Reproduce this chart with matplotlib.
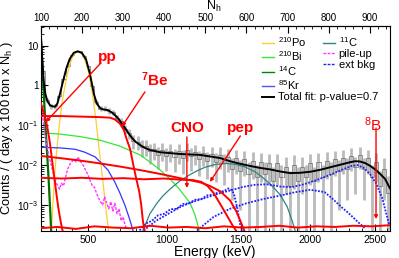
import numpy as np
import matplotlib
matplotlib.use('Agg')
import matplotlib.pyplot as plt
from matplotlib.ticker import FixedLocator, NullFormatter, FixedFormatter, LogLocator
from matplotlib.lines import Line2D

plt.rcParams['font.family'] = ['Liberation Sans', 'DejaVu Sans']
plt.rcParams['mathtext.fontset'] = 'custom'
plt.rcParams['mathtext.rm'] = 'Liberation Sans'
plt.rcParams['mathtext.it'] = 'Liberation Sans:italic'
plt.rcParams['mathtext.bf'] = 'Liberation Sans:bold'

# ---------------- data (x in N_h) ----------------
energy_cal = [500, 1000, 1500, 2000, 2500]
nh_cal = [215, 408, 586, 754, 912]

data_nh = list(range(105, 950, 10))
data_val = [2.3, 0.44, 0.30, 0.30, 0.53, 1.45, 3.1, 5.7, 6.9, 7.1,
            5.5, 3.0, 0.95, 0.38, 0.26, 0.26, 0.23, 0.21, 0.155, 0.125,
            0.08, 0.063, 0.041, 0.038, 0.029, 0.030, 0.022, 0.025, 0.018, 0.024,
            0.017, 0.023, 0.016, 0.022, 0.015, 0.024, 0.017, 0.021, 0.014, 0.020,
            0.013, 0.019, 0.012, 0.018, 0.011, 0.016, 0.008, 0.015, 0.007, 0.014,
            0.006, 0.013, 0.005, 0.012, 0.006, 0.011, 0.004, 0.011, 0.005, 0.009,
            0.003, 0.010, 0.004, 0.009, 0.005, 0.011, 0.004, 0.012, 0.005, 0.013,
            0.006, 0.014, 0.007, 0.015, 0.008, 0.017, 0.009, 0.018, 0.008, 0.015,
            0.005, 0.012, 0.003, 0.008, 0.002]

fit_nh = [99, 103, 107, 111, 116, 122, 128, 134, 140, 146, 154, 162, 170, 180, 190,
          200, 210, 219, 229, 236, 244, 251, 263, 275, 285, 292, 300, 310, 317, 324,
          331, 341, 353, 365, 390, 414, 438, 463, 487, 511, 536, 560, 584, 609, 633,
          657, 682, 706, 730, 755, 779, 803, 828, 852, 864, 876, 889, 901, 913, 925,
          937, 949]
fit_val = [25, 5, 1.2, 0.6, 0.4, 0.32, 0.3, 0.29, 0.35, 0.6, 1.3, 2.7, 4.6, 6.6, 7.2,
           6.5, 4.4, 2.0, 0.6, 0.35, 0.27, 0.25, 0.24, 0.2, 0.16, 0.13, 0.1, 0.07, 0.055, 0.045,
           0.038, 0.032, 0.027, 0.024, 0.021, 0.02, 0.019, 0.0185, 0.018, 0.0165, 0.015, 0.0125, 0.0108, 0.0095, 0.0085,
           0.0078, 0.0069, 0.0063, 0.0064, 0.0068, 0.0076, 0.0088, 0.0102, 0.0118, 0.0125, 0.0123, 0.0112, 0.0095, 0.0078, 0.006,
           0.0045, 0.0026]

pp_nh = [99, 103, 107, 110, 113, 116, 119, 122, 125, 128, 131, 134, 138, 142, 146, 150, 153]
pp_val = [0.38, 0.28, 0.2, 0.16, 0.12, 0.085, 0.055, 0.035, 0.02, 0.011, 0.0065, 0.0038,
          0.0018, 9e-4, 5e-4, 3e-4, 2.2e-4]

be7_nh = [99, 146, 195, 244, 268, 280, 292, 302, 307, 317, 324, 331, 339, 344, 348, 353]
be7_val = [0.17, 0.17, 0.165, 0.16, 0.155, 0.14, 0.11, 0.075, 0.05, 0.025, 0.011, 5e-3,
           2.2e-3, 1e-3, 4e-4, 2e-4]

pep_nh = [99, 150, 200, 250, 300, 350, 400, 440, 470, 490, 505, 520, 535, 550, 565, 578]
pep_val = [0.0048, 0.0046, 0.0048, 0.0045, 0.0047, 0.0044, 0.0046, 0.0043, 0.0042, 0.0038,
           0.003, 0.002, 0.0011, 6e-4, 3.2e-4, 2e-4]

cno_nh = [99, 146, 195, 244, 292, 341, 390, 438, 487, 511, 536, 560, 575, 585, 595]
cno_val = [0.017, 0.015, 0.013, 0.011, 0.0092, 0.0075, 0.006, 0.0047, 0.0037, 0.003,
           0.0022, 0.0013, 7e-4, 4e-4, 2.2e-4]

b8_nh = [99, 140, 185, 230, 275, 320, 365, 410, 455, 500, 545, 590, 635, 680, 725, 770,
         815, 860, 905, 949]
b8_val = [2.6e-4, 2.8e-4, 2.5e-4, 2.9e-4, 2.7e-4, 2.6e-4, 3.0e-4, 2.7e-4, 2.8e-4, 2.6e-4,
          2.9e-4, 2.7e-4, 2.8e-4, 3.0e-4, 2.7e-4, 2.9e-4, 2.8e-4, 3.0e-4, 2.9e-4, 3.1e-4]

po_nh = [122, 126, 130, 134, 140, 146, 152, 158, 164, 170, 176, 182, 190, 198, 204, 210,
         216, 222, 228, 234, 240, 246, 252, 258, 264, 268]
po_val = [1.5e-4, 2.6e-4, 1.5e-3, 7e-3, 0.035, 0.13, 0.4, 0.9, 1.9, 3.3, 4.9, 6.3, 7.0,
          6.4, 5.1, 3.5, 2.1, 1.0, 0.4, 0.13, 0.035, 0.01, 3e-3, 8e-4, 2.5e-4, 1.5e-4]

bi_nh = [100, 146, 195, 244, 292, 341, 365, 390, 414, 438, 463, 475, 485]
bi_val = [0.065, 0.06, 0.052, 0.042, 0.03, 0.018, 0.012, 0.0075, 0.0045, 0.0024, 0.0011,
          5.5e-4, 2.3e-4]

c14_nh = [99, 101, 103, 105, 107, 109, 111, 113, 115, 117, 119, 121, 123, 125]
c14_val = [25, 10, 4, 1.6, 0.6, 0.25, 0.1, 0.045, 0.02, 0.009, 0.004, 0.0015, 6e-4, 2.2e-4]

kr_nh = [100, 146, 183, 207, 232, 244, 263, 280, 292, 304, 314, 324]
kr_val = [0.028, 0.027, 0.025, 0.021, 0.016, 0.012, 0.0075, 0.0037, 0.002, 0.001, 5e-4, 2.3e-4]

c11_nh = [348, 358, 365, 382, 397, 414, 438, 463, 480, 499, 523, 548, 572, 596, 621, 638,
          657, 682, 699, 711, 718]
c11_val = [2.3e-4, 4e-4, 6e-4, 1.1e-3, 1.7e-3, 2.5e-3, 4e-3, 5.8e-3, 7.2e-3, 8.8e-3,
           1.03e-2, 1.1e-2, 1.05e-2, 9e-3, 6.8e-3, 5e-3, 3.4e-3, 1.8e-3, 9e-4, 4e-4, 2.3e-4]

pile_nh = [99, 105, 110, 118, 125, 135, 145, 150, 155, 160, 165, 172, 180, 185, 190, 195,
           200, 205, 210, 215, 220, 225, 230, 235, 240, 245, 250, 255, 260, 265, 270, 275,
           280, 285, 290, 295, 300, 305, 310]
pile_val = [0.5, 0.15, 0.06, 0.02, 0.01, 0.004, 0.0025, 0.0035, 0.003, 0.005, 0.008, 0.011,
            0.014, 0.012, 0.016, 0.013, 0.011, 0.009, 0.007, 0.0055, 0.004, 0.003, 0.0028,
            0.002, 0.0015, 0.0012, 0.001, 0.0016, 0.0011, 0.0008, 0.0012, 0.0007, 0.0011,
            0.0006, 0.0008, 0.0004, 0.0005, 0.0003, 0.00025]

extk_nh = [340, 355, 370, 385, 400, 415, 430, 445, 460, 475, 490, 505, 520, 535, 545, 555,
           560, 565, 570, 578, 585, 590]
extk_val = [2.3e-4, 3.4e-4, 4e-4, 5.5e-4, 6e-4, 7.8e-4, 8e-4, 1.05e-3, 1.1e-3, 1.35e-3,
            1.4e-3, 1.75e-3, 1.8e-3, 2.2e-3, 2.2e-3, 2.6e-3, 2.5e-3, 2.3e-3, 1.8e-3, 8e-4,
            3e-4, 2e-4]

extt_nh = [350, 380, 410, 440, 470, 500, 530, 560, 590, 620, 650, 680, 710, 740, 770, 800,
           830, 855, 870, 885, 900, 915, 930, 940, 948]
extt_val = [2.3e-4, 4e-4, 6e-4, 9e-4, 1.2e-3, 1.5e-3, 1.9e-3, 2.3e-3, 2.8e-3, 3.2e-3,
            3.3e-3, 2.9e-3, 2.8e-3, 3.3e-3, 4.2e-3, 5.5e-3, 7.5e-3, 9.5e-3, 1.0e-2, 8.5e-3,
            6e-3, 3.5e-3, 1.5e-3, 6e-4, 3e-4]

extb_nh = [480, 520, 560, 600, 640, 680, 720, 755, 790, 810, 830, 850, 870, 890]
extb_val = [2.3e-4, 5e-4, 8e-4, 1.1e-3, 1.4e-3, 1.7e-3, 2.1e-3, 2.4e-3, 2.1e-3, 1.4e-3,
            9e-4, 6e-4, 3.8e-4, 2.5e-4]

energy_major = [500, 1000, 1500, 2000, 2500]
nh_major = [100, 200, 300, 400, 500, 600, 700, 800, 900]

# ---------------- figure ----------------
W, H = 399, 258
fig = plt.figure(figsize=(W / 100, H / 100), dpi=100)
ax = fig.add_axes([40.5 / W, 1 - 230.5 / H, (390 - 40.5) / W, (230.5 - 26) / H])
ax.set_yscale('log')
ax.set_xlim(99, 949)
ax.set_ylim(2.28e-4, 31)

# data with error bars
dv = np.array(data_val)
err = np.sqrt(dv / 180.0)
lo = np.clip(dv - err, 1e-5, None)
hi = dv + err
ax.vlines(data_nh, lo, hi, color='#8c8c8c', lw=2.0, alpha=0.6, zorder=1)
edges = np.concatenate([[100], np.array(data_nh) + 5])
ax.stairs(dv, edges, color='#6a6a6a', lw=0.5, zorder=1)

red = '#ff0000'
ax.plot(po_nh, po_val, color='#ffcc33', lw=0.9, zorder=2)
ax.plot(bi_nh, bi_val, color='#33e833', lw=0.9, zorder=2)
ax.plot(c14_nh, c14_val, color='#006f00', lw=1.6, zorder=2)
ax.plot(kr_nh, kr_val, color='#3333ff', lw=0.9, zorder=2)
ax.plot(c11_nh, c11_val, color='#2a8585', lw=0.9, zorder=2)
ax.plot(pile_nh, pile_val, color='#ff33ff', lw=1.0, ls=(0, (2, 1)), zorder=2)
for xs, ys in [(extk_nh, extk_val), (extt_nh, extt_val), (extb_nh, extb_val)]:
    ax.plot(xs, ys, color='#2020ff', lw=1.3, ls=(0, (1, 0.8)), zorder=2)
for xs, ys in [(pp_nh, pp_val), (be7_nh, be7_val), (pep_nh, pep_val),
               (cno_nh, cno_val), (b8_nh, b8_val)]:
    ax.plot(xs, ys, color=red, lw=1.4, zorder=3)
ax.plot(fit_nh, fit_val, color='black', lw=1.4, zorder=4)

# annotations
akw = dict(arrowstyle='-|>', color=red, lw=1.0, mutation_scale=5, shrinkA=0, shrinkB=0)
ax.annotate('', xy=(112, 0.121), xytext=(246, 3.67), arrowprops=akw, zorder=5)
ax.text(261, 5.2, 'pp', color=red, fontsize=11, fontweight='bold', ha='center', va='center')
ax.annotate('', xy=(297, 0.093), xytext=(353, 0.687), arrowprops=akw, zorder=5)
ax.text(378, 1.37, r'$^{\mathbf{7}}$Be', color=red, fontsize=11, fontweight='bold', ha='center', va='center')
ax.annotate('', xy=(455, 0.00266), xytext=(455, 0.0508), arrowprops=akw, zorder=5)
ax.text(455, 0.084, 'CNO', color=red, fontsize=11, fontweight='bold', ha='center', va='center')
ax.annotate('', xy=(511, 0.00377), xytext=(585, 0.0538), arrowprops=akw, zorder=5)
ax.text(585, 0.084, 'pep', color=red, fontsize=11, fontweight='bold', ha='center', va='center')
ax.annotate('', xy=(915, 4.4e-4), xytext=(915, 0.085), arrowprops=akw, zorder=5)
ax.text(908, 0.102, r'$^{8}$B', color=red, fontsize=11, ha='center', va='center')

# axes ticks
coef = np.polyfit(energy_cal, nh_cal, 2)
def e2nh(e):
    return np.polyval(coef, e)
ax.xaxis.set_major_locator(FixedLocator(e2nh(np.array(energy_major))))
ax.xaxis.set_major_formatter(FixedFormatter([str(e) for e in energy_major]))
minor_e = [e for e in range(200, 2700, 100) if e not in energy_major]
ax.xaxis.set_minor_locator(FixedLocator(e2nh(np.array(minor_e))))
ax.xaxis.set_minor_formatter(NullFormatter())

ax.yaxis.set_major_locator(FixedLocator([1e-3, 1e-2, 1e-1, 1, 10]))
ax.yaxis.set_major_formatter(FixedFormatter([r'$10^{-3}$', r'$10^{-2}$', r'$10^{-1}$', '1', '10']))
ax.yaxis.set_minor_locator(LogLocator(base=10, subs=np.arange(2, 10), numticks=20))
ax.yaxis.set_minor_formatter(NullFormatter())
ax.tick_params(axis='x', which='both', direction='in', top=False, labelsize=7.5, pad=3)
ax.tick_params(axis='y', which='both', direction='in', right=False, labelsize=7.3, pad=1.5)
ax.tick_params(which='major', length=5, width=0.8)
ax.tick_params(which='minor', length=2.5, width=0.6)

sec = ax.secondary_xaxis('top')
sec.xaxis.set_major_locator(FixedLocator(nh_major))
sec.xaxis.set_minor_locator(FixedLocator(list(range(100, 950, 20))))
sec.tick_params(which='both', direction='in', labelsize=7, pad=2)
sec.tick_params(which='major', length=5, width=0.8)
sec.tick_params(which='minor', length=2.5, width=0.6)
fig.text(214 / W, 1 - 6.5 / H, r'N$_{\rm h}$', fontsize=9, ha='center', va='center')

ax.set_xlabel('Energy (keV)', fontsize=10, labelpad=0)
ax.set_ylabel(r'Counts / ( day x 100 ton x N$_{\rm h}$ )', fontsize=9.3)
ax.yaxis.set_label_coords((15 - 40.5) / (390 - 40.5), 0.5)

# legends
h1 = [Line2D([], [], color='#ffcc33', lw=1), Line2D([], [], color='#33e833', lw=1),
      Line2D([], [], color='#008800', lw=1), Line2D([], [], color='#5555ff', lw=1),
      Line2D([], [], color='black', lw=1.4)]
l1 = [r'$^{210}$Po', r'$^{210}$Bi', r'$^{14}$C', r'$^{85}$Kr', 'Total fit: p-value=0.7']
h2 = [Line2D([], [], color='#2a8585', lw=1), Line2D([], [], color='#ff33ff', lw=1, ls=(0, (2, 1))),
      Line2D([], [], color='#2020ff', lw=1, ls=(0, (2, 1)))]
l2 = [r'$^{11}$C', 'pile-up', 'ext bkg']
lkw = dict(frameon=False, fontsize=8, handlelength=1.1, handletextpad=0.3,
           labelspacing=0.05, borderpad=0, borderaxespad=0, loc='upper left')
leg1 = ax.legend(h1, l1, bbox_to_anchor=(262 / W, 1 - 35 / H), bbox_transform=fig.transFigure, **lkw)
ax.add_artist(leg1)
ax.legend(h2, l2, bbox_to_anchor=(323 / W, 1 - 35 / H), bbox_transform=fig.transFigure, **lkw)

fig.savefig('out.png', dpi=100)
